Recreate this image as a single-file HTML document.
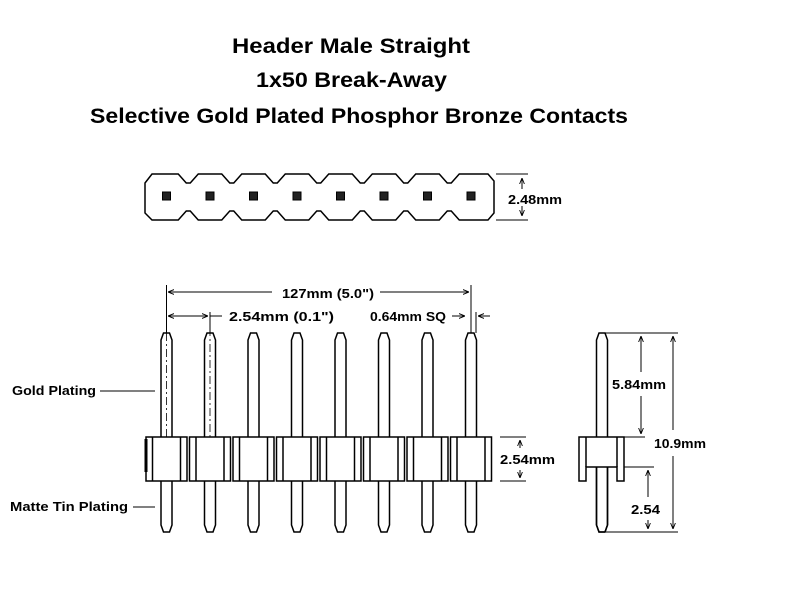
<!DOCTYPE html>
<html><head><meta charset="utf-8"><style>
html,body{margin:0;padding:0;background:#fff;}
svg{display:block}
text{font-family:"Liberation Sans",sans-serif;font-weight:bold;fill:#000}
</style></head><body>
<svg id="s" width="800" height="600" viewBox="0 0 800 600" xmlns="http://www.w3.org/2000/svg">
<defs>
<marker id="a" viewBox="0 0 10 10" refX="10" refY="5" markerWidth="6" markerHeight="6" orient="auto-start-reverse"><path d="M0,1 L10,5 L0,9" fill="none" stroke="#000" stroke-width="1.5"/></marker>
</defs>
<text x="232" y="53" font-size="21" textLength="238" lengthAdjust="spacingAndGlyphs">Header Male Straight</text>
<text x="256" y="87" font-size="21" textLength="191" lengthAdjust="spacingAndGlyphs">1x50 Break-Away</text>
<text x="90" y="123" font-size="21" textLength="538" lengthAdjust="spacingAndGlyphs">Selective Gold Plated Phosphor Bronze Contacts</text>
<g id="g" stroke="#000" fill="none" stroke-width="1.5"></g>
<g stroke="#000" stroke-width="1" fill="none">
<line x1="496" y1="174" x2="528" y2="174"/><line x1="496" y1="220" x2="528" y2="220"/>
<line x1="522" y1="178" x2="522" y2="189" marker-start="url(#a)"/><line x1="522" y1="206" x2="522" y2="216" marker-end="url(#a)"/>
<line x1="166.5" y1="285" x2="166.5" y2="333"/><line x1="471" y1="285" x2="471" y2="333"/>
<line x1="168" y1="292" x2="272" y2="292" marker-start="url(#a)"/><line x1="380" y1="292" x2="469" y2="292" marker-end="url(#a)"/>
<line x1="168" y1="316" x2="208" y2="316" marker-start="url(#a)" marker-end="url(#a)"/><line x1="210" y1="316" x2="222" y2="316"/>
<line x1="210" y1="312" x2="210" y2="333"/>
<line x1="452" y1="316" x2="465" y2="316" marker-end="url(#a)"/><line x1="476" y1="312" x2="476" y2="333"/><line x1="490" y1="316" x2="478" y2="316" marker-end="url(#a)"/>
<line x1="500" y1="437" x2="526" y2="437"/><line x1="500" y1="481" x2="526" y2="481"/>
<line x1="520" y1="440" x2="520" y2="448" marker-start="url(#a)"/><line x1="520" y1="470" x2="520" y2="478" marker-end="url(#a)"/>
<line x1="603" y1="333" x2="678" y2="333"/><line x1="624" y1="437" x2="645" y2="437"/>
<line x1="624" y1="467" x2="654" y2="467"/><line x1="606" y1="532" x2="678" y2="532"/>
<line x1="641" y1="336" x2="641" y2="372" marker-start="url(#a)"/><line x1="641" y1="396" x2="641" y2="434" marker-end="url(#a)"/>
<line x1="673" y1="336" x2="673" y2="430" marker-start="url(#a)"/><line x1="673" y1="456" x2="673" y2="529" marker-end="url(#a)"/>
<line x1="648" y1="470" x2="648" y2="497" marker-start="url(#a)"/><line x1="648" y1="520" x2="648" y2="529" marker-end="url(#a)"/>
<line x1="100" y1="391" x2="155" y2="391"/><line x1="133" y1="507" x2="155" y2="507"/>
</g>
<text x="508" y="204" font-size="13" textLength="54" lengthAdjust="spacingAndGlyphs">2.48mm</text>
<text x="282" y="298" font-size="13" textLength="92" lengthAdjust="spacingAndGlyphs">127mm (5.0")</text>
<text x="229" y="321" font-size="13" textLength="105" lengthAdjust="spacingAndGlyphs">2.54mm (0.1")</text>
<text x="370" y="321" font-size="13" textLength="76" lengthAdjust="spacingAndGlyphs">0.64mm SQ</text>
<text x="500" y="464" font-size="13" textLength="55" lengthAdjust="spacingAndGlyphs">2.54mm</text>
<text x="612" y="389" font-size="13" textLength="54" lengthAdjust="spacingAndGlyphs">5.84mm</text>
<text x="654" y="448" font-size="13" textLength="52" lengthAdjust="spacingAndGlyphs">10.9mm</text>
<text x="631" y="514" font-size="13" textLength="29" lengthAdjust="spacingAndGlyphs">2.54</text>
<text x="12" y="395" font-size="13" textLength="84" lengthAdjust="spacingAndGlyphs">Gold Plating</text>
<text x="10" y="511" font-size="13" textLength="118" lengthAdjust="spacingAndGlyphs">Matte Tin Plating</text>
</svg>
<script>
var g=document.getElementById('g'),h='';
var xs=[166.5,210,253.5,297,340.5,384,427.5,471];
function pin(c){return '<path fill="#fff" d="M'+(c-5.5)+',437 L'+(c-5.5)+',340 L'+(c-3)+',333 L'+(c+3)+',333 L'+(c+5.5)+',340 L'+(c+5.5)+',437 M'+(c-5.5)+',467 L'+(c-5.5)+',525 L'+(c-3)+',532 L'+(c+3)+',532 L'+(c+5.5)+',525 L'+(c+5.5)+',467"/>';}
xs.forEach(function(c,i){
 h+=pin(c);
 if(i<2)h+='<line x1="'+c+'" y1="'+(i==0?285:312)+'" x2="'+c+'" y2="437" stroke-width="0.8" stroke-dasharray="8,3,2,3"/>';
 h+='<rect x="'+(c-20.5)+'" y="437" width="41" height="44" fill="#fff"/>';
 h+='<line x1="'+(c-14)+'" y1="437" x2="'+(c-14)+'" y2="481"/><line x1="'+(c+14)+'" y1="437" x2="'+(c+14)+'" y2="481"/>';
 h+='<rect x="'+(c-4)+'" y="192" width="8" height="8" fill="#222" stroke-width="1"/>';
});
h+='<line x1="146" y1="439" x2="146" y2="472" stroke-width="3"/>';
var d='M145,183 L152,174';
for(var i=0;i<7;i++){var b=(xs[i]+xs[i+1])/2;d+=' L'+(b-10)+',174 L'+(b-2)+',183 L'+(b+2)+',183 L'+(b+10)+',174';}
d+=' L488,174 L494,181 L494,213 L488,220';
for(var i=6;i>=0;i--){var b=(xs[i]+xs[i+1])/2;d+=' L'+(b+10)+',220 L'+(b+2)+',211 L'+(b-2)+',211 L'+(b-10)+',220';}
d+=' L152,220 L145,213 Z';
h+='<path d="'+d+'"/>';
h+=pin(602);
h+='<path fill="#fff" d="M579,437 L624,437 L624,481 L617,481 L617,467 L586,467 L586,481 L579,481 Z"/>';
h+='<line x1="586" y1="437" x2="586" y2="467"/><line x1="617" y1="437" x2="617" y2="467"/>';
h+='<path d="M596.5,467 L596.5,525 L599,532 L605,532 L607.5,525 L607.5,467"/>';
g.innerHTML=h;
</script>
</body></html>
